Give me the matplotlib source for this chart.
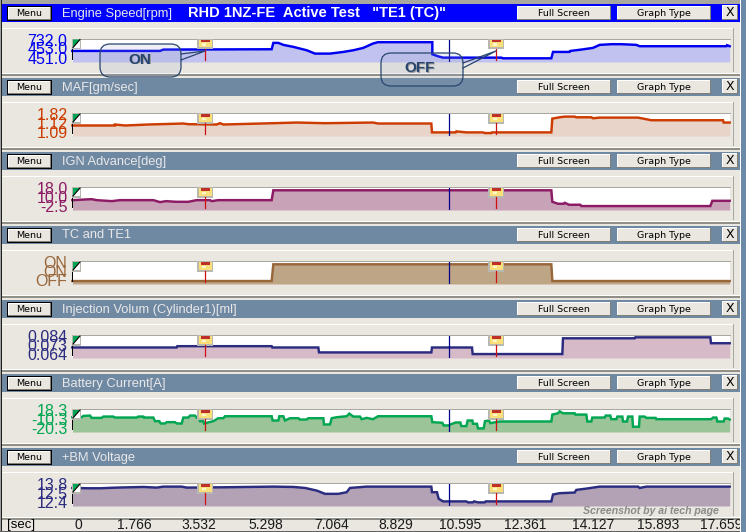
import matplotlib
matplotlib.use("Agg")
import matplotlib.pyplot as plt
import numpy as np
from matplotlib.patches import Rectangle, FancyBboxPatch, Polygon

W, H = 746, 532
TICKS_PER_SEC = 111.8
FULL_TICKS = 1974

# Time stamps (acquisition ticks) and levels (display level, 0-67 of the strip)
engine_t = [1,264,274,599,604,619,634,664,704,729,774,814,844,874,903,918,1081,1081,1098,1113,1288,1293,1438,1443,1493,1495,1528,1563,1583,1618,1648,1693,1703,1963,1965,1973]
engine_v = [33,33,37,38,57,57,51,45,35,25,25,30,35,42,55,59,59,23,17,13,13,11,11,30,30,33,37,42,51,53,53,51,47,47,50,47]

maf_t = [1,129,129,159,229,334,349,434,444,454,604,674,759,903,918,1078,1080,1151,1153,1183,1233,1238,1258,1260,1438,1441,1463,1478,1508,1513,1558,1563,1583,1698,1718,1738,1953,1955,1973]
maf_v = [32,32,35,32,35,38,36,35,39,35,39,41,39,41,38,38,11,11,14,11,11,9,9,11,11,53,57,59,59,57,57,54,56,56,52,48,48,41,41]

ign_t = [1,59,74,119,144,244,264,282,312,349,374,414,419,439,599,604,1438,1441,1458,1475,1478,1491,1525,1528,1915,1921,1973]
ign_v = [30,33,30,27,30,30,24,27,25,25,30,30,27,30,30,60,60,25,19,19,22,16,16,12,12,28,28]

tc_t = [1,599,604,1438,1441,1973]
tc_v = [9,9,60,60,9,9]

inj_t = [1,314,316,599,601,739,741,1078,1080,1200,1202,1471,1473,1688,1690,1915,1917,1973]
inj_v = [32,32,36,36,32,32,17,17,32,32,12,12,60,60,63,63,45,45]

bat_t = [1,29,34,54,59,89,94,124,129,194,199,214,216,244,249,262,266,279,284,309,314,329,334,349,354,369,374,382,384,394,396,424,439,454,459,599,602,619,622,634,639,654,679,684,704,709,754,756,774,779,794,824,832,844,864,869,884,903,918,1078,1081,1111,1115,1131,1135,1151,1165,1168,1183,1187,1201,1203,1215,1218,1235,1239,1251,1255,1283,1438,1441,1458,1463,1473,1508,1510,1543,1546,1558,1561,1598,1601,1615,1618,1633,1636,1651,1653,1665,1668,1681,1683,1701,1703,1718,1723,1751,1753,1918,1923,1933,1936,1955,1958,1968,1973]
bat_v = [45,45,49,50,43,43,47,47,44,44,47,47,44,44,33,33,26,26,30,30,26,26,44,44,50,50,44,44,33,33,26,33,42,42,48,48,35,35,48,48,35,42,42,38,38,42,42,23,23,42,45,48,56,47,47,39,43,39,48,48,30,28,20,20,23,29,29,18,18,35,35,25,25,11,11,33,35,27,32,32,53,57,63,57,57,53,53,32,32,44,44,50,50,39,39,47,47,32,32,47,47,16,16,47,47,43,43,39,39,44,44,32,32,41,41,38]

bm_t = [1,49,84,134,214,254,274,329,344,454,604,664,699,734,759,799,824,834,884,903,1078,1080,1095,1100,1113,1183,1188,1203,1206,1218,1238,1241,1438,1443,1463,1508,1513,1543,1583,1698,1703,1723,1973]
bm_v = [55,54,54,56,58,56,59,59,56,57,59,58,55,47,37,37,42,55,59,59,59,42,42,22,14,14,11,11,14,11,11,14,14,35,39,41,49,53,59,59,55,59,59]

titles = ["Engine Speed[rpm]", "MAF[gm/sec]", "IGN Advance[deg]", "TC and TE1",
          "Injection Volum (Cylinder1)[ml]", "Battery Current[A]", "+BM Voltage"]
scale_labels = [["732.0","453.0","451.0"], ["1.82","1.12","1.09"], ["18.0","10.0","-2.5"],
                ["ON","ON","OFF"], ["0.084","0.073","0.064"], ["18.3","-10.3","-20.3"],
                ["13.8","12.5","12.4"]]
series_t = [engine_t, maf_t, ign_t, tc_t, inj_t, bat_t, bm_t]
series_v = [engine_v, maf_v, ign_v, tc_v, inj_v, bat_v, bm_v]
line_colors = ["#0000f0","#cc3c00","#8c1a64","#99663a","#2b2b80","#00a651","#2b2b80"]
fill_colors = ["#c2c2f0","#e8d4c8","#c8a2b6","#bea586","#d6bac8","#9bc498","#b3a2b6"]
text_colors = ["#0000f0","#cc3c00","#8c1a64","#99663a","#2b2b80","#00a651","#2b2b80"]
time_labels = ["0","1.766","3.532","5.298","7.064","8.829","10.595","12.361","14.127","15.893","17.659"]
label_px = [78,134,199,266,332,396,460,525,593,658,721]
cursor_times = [3.56, 10.12, 11.38]

BG = "#eae7e0"
STEEL = "#7089a3"
fig = plt.figure(figsize=(W/100, H/100), dpi=100, facecolor=BG)
sans = "Liberation Sans"
narrow = ["Liberation Sans Narrow", "Liberation Sans"]

# pixel-space chrome layer
bgax = fig.add_axes([0,0,1,1], zorder=0)
bgax.set_xlim(0,W); bgax.set_ylim(H,0); bgax.axis("off")
top = fig.add_axes([0,0,1,1], zorder=5)
top.set_xlim(0,W); top.set_ylim(H,0); top.axis("off"); top.patch.set_alpha(0)

def rect(ax,x0,y0,x1,y1,c,z=1,**k):
    ax.add_patch(Rectangle((x0,y0),x1-x0,y1-y0,fc=c,ec="none",lw=0,zorder=z,**k))

def button(x0,y0,x1,y1,label,fs,black=False):
    if black:
        rect(bgax,x0-1,y0-1,x1+1,y1+1,"#000000",3)
    rect(bgax,x0,y0,x1,y1,"#808078",3)
    rect(bgax,x0,y0,x1-1,y1-1,"#ffffff",3)
    rect(bgax,x0+1,y0+1,x1-1,y1-1,BG,3)
    bgax.text((x0+x1)/2,(y0+y1)/2,label,ha="center",va="center",fontsize=fs,color="black",family="DejaVu Sans",zorder=4)

# window edges
rect(bgax,0,0,W,3.5,"#a8a8a0")
rect(bgax,0,0,1,H,"#a0a0a0")
rect(bgax,1,0,2,H,"#202020")
rect(bgax,740,0,741,H,"#ffffff")
rect(bgax,741,0,W,H,"#6c89a8")

PANEL_TOP = [40+74*i for i in range(7)]
PANEL_BOT = [62+74*i for i in range(7)]
PANEL_TOP[0] = 39.5
for i in range(7):
    hy = 4+74*i
    rect(bgax,2,hy,740,hy+18,"#0000ff" if i==0 else STEEL,2)
    button(8,hy+3,51,hy+16,"Menu",6.8,True)
    button(517,hy+2,611,hy+16,"Full Screen",6.8)
    button(617,hy+2,711,hy+16,"Graph Type",6.8)
    button(722,hy+1,738,hy+16,"X",9)
    bgax.text(62,hy+9.5,titles[i],ha="left",va="center",fontsize=9.3,color="#e8e8e8",family=sans,zorder=4)
    # strip frame
    fy = hy+24
    rect(bgax,2,fy,734,fy+1,"#ffffff",2)
    rect(bgax,733,fy,734,fy+44,"#a8a8a0",2)
    rect(bgax,2,hy+69,740,hy+70,"#ffffff",2)
    rect(bgax,2,hy+70,740,hy+72,"#909088",2)
    # scale labels
    T = PANEL_TOP[i]; B = PANEL_BOT[i]
    for s,dy in zip(scale_labels[i],(1.5,10.5,20)):
        bgax.text(67.5,T+dy,s,ha="right",va="center",fontsize=11.5,color=text_colors[i],family=narrow,zorder=4)

bgax.text(188,13,'RHD 1NZ-FE  Active Test   "TE1 (TC)"',ha="left",va="center",fontsize=10.5,color="white",family=sans,fontweight="bold",zorder=4)

# data strips
for i in range(7):
    T = PANEL_TOP[i]; B = PANEL_BOT[i]
    x0 = 72; x1 = 72+FULL_TICKS/3
    ax = fig.add_axes([x0/W, 1-B/H, (x1-x0)/W, (B-T)/H], zorder=2)
    ax.set_facecolor("white")
    ax.set_xlim(0, FULL_TICKS/TICKS_PER_SEC)
    ax.set_ylim(0, 67)
    ax.set_xticks([]); ax.set_yticks([])
    for sp in ax.spines.values():
        sp.set_visible(False)
    t = np.array(series_t[i])/TICKS_PER_SEC
    v = np.array(series_v[i])
    ax.fill_between(t, 0, v, color=fill_colors[i], lw=0, zorder=1)
    ax.plot(t, v, color=line_colors[i], lw=1.75, zorder=3, solid_joinstyle="miter", clip_on=False)
    ax.axvline(cursor_times[1], ymin=0.05, color="#00008c", lw=0.9, zorder=4)
    # overlay chrome
    rect(top,72,T-1,731,T,"#a8a8a0",1)
    rect(top,71.5,T+9,72.5,B-2,"#000000",2)
    rect(top,72,T-1,81,T+9.5,"#b8b8b0",2)
    top.add_patch(Polygon([(73,T),(80,T),(73,T+8)],fc="#00a651",ec="none",zorder=3))
    top.add_patch(Polygon([(80,T),(80,T+8),(73,T+8)],fc="white",ec="none",zorder=3))
    top.plot([73,80],[T+8,T],color="black",lw=0.8,zorder=3)
    for ct,fl in zip((cursor_times[0],cursor_times[2]),(205,496)):
        top.plot([fl+0.3,fl+0.3],[T+9,B-2],color="#d01010",lw=0.9,zorder=3)
        rect(top,fl-8,T-1,fl+8,T+9.5,"#b8b8b0",2)
        rect(top,fl-6.5,T,fl+6.5,T+7.5,"#fbe07a",3)
        rect(top,fl-4,T,fl+5,T+2.5,"#c0302a",4)
        rect(top,fl-3,T+3.5,fl+1,T+6,"#fff6cc",4)

# callouts
def callout(x0,y0,x1,y1,tip,base,label,lx,ly):
    top.add_patch(FancyBboxPatch((x0+8,y0+8),x1-x0-16,y1-y0-16,boxstyle="round,pad=8,rounding_size=10",
        fc="#9aa6c8",alpha=0.16,ec="none",zorder=7))
    top.add_patch(FancyBboxPatch((x0+8,y0+8),x1-x0-16,y1-y0-16,boxstyle="round,pad=8,rounding_size=10",
        fc="none",ec="#27456e",lw=0.9,zorder=8))
    top.plot([base[0],tip[0],base[2]],[base[1],tip[1],base[3]],color="#27456e",lw=0.9,zorder=8)
    top.text(lx+1,ly+1,label,ha="center",va="center",fontsize=11,fontweight="bold",color="#9a9a9a",family=sans,zorder=8)
    top.text(lx,ly,label,ha="center",va="center",fontsize=11,fontweight="bold",color="#27456e",family=sans,zorder=9)

callout(100,44,181,77,(205,51),(181,54,181,60),"ON",139.5,59.5)
callout(381,53,463,86,(496,51),(463,63,463,68),"OFF",420,68)

# bottom strip
bgax.text(7,525,"[sec]",ha="left",va="center",fontsize=9.5,color="black",family=sans,zorder=4)
for s,px in zip(time_labels,label_px):
    bgax.text(px,525,s,ha="center",va="center",fontsize=10,color="#1a1a1a",family=sans,zorder=4,clip_on=True)
top.text(583,510.5,"Screenshot by ai tech page",ha="left",va="center",fontsize=7.6,fontweight="bold",style="italic",color="#8a8a8a",family=sans,zorder=9)
rect(bgax,0,531,W,H,"#606060",6)
rect(bgax,741,0,W,H,"#6c89a8",7)
rect(bgax,740,0,741,H,"#ffffff",7)

fig.savefig("out.png",dpi=100,facecolor=BG)
